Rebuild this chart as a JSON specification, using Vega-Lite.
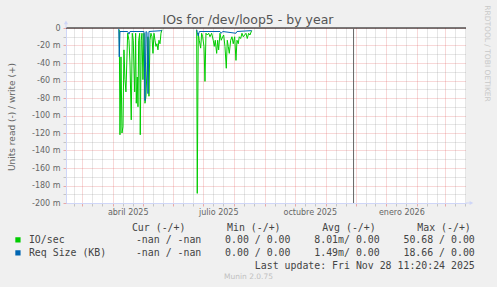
{
  "$schema": "https://vega.github.io/schema/vega-lite/v6.json",
  "width": 400,
  "height": 175,
  "autosize": "none",
  "padding": {"left": 66, "top": 28, "right": 31, "bottom": 84},
  "background": "#F0F0F0",
  "config": {"view": {"fill": "#FFFFFF", "stroke": null}},
  "title": {"text": "IOs for /dev/loop5 - by year", "font": "DejaVu Sans", "fontSize": 12.5, "fontWeight": "normal", "color": "#555555", "anchor": "middle", "dx": -18, "dy": 32, "baseline": "alphabetic", "offset": 0},
  "resolve": {"axis": {"x": "independent", "y": "independent"}},
  "layer": [
    {
      "data": {"values": [{"v": 0}]},
      "mark": {"type": "rule", "color": "#000000", "strokeWidth": 1},
      "encoding": {
        "y": {"field": "v", "type": "quantitative", "scale": {"domain": [-200, 0], "nice": false, "zero": false},
          "axis": {"orient": "right", "labels": false, "ticks": false, "domain": false, "grid": false, "title": "RRDTOOL / TOBI OETIKER", "titleAngle": 90, "titleX": 20.5, "titleY": 25, "titleAlign": "center", "titleBaseline": "middle", "titleFont": "DejaVu Sans", "titleFontSize": 7.5, "titleFontWeight": "normal", "titleColor": "#C8C8C8"}}
      }
    },
    {
      "data": {"values": [{"t": "2025-11-29T00:00:00Z"}]},
      "mark": {"type": "rule", "color": "#666666", "strokeWidth": 1},
      "encoding": {
        "x": {"field": "t", "type": "temporal", "axis": null}
      }
    },
    {
      "data": {"values": [{"t": "2025-02-13T00:00:00Z", "v": 0, "v2": 5}]},
      "mark": {"type": "rule", "color": "#CFD6F8", "strokeWidth": 1, "clip": false},
      "encoding": {
        "x": {"field": "t", "type": "temporal", "axis": null},
        "y": {"field": "v", "type": "quantitative", "axis": null},
        "y2": {"field": "v2"}
      }
    },
    {
      "data": {"values": [{"t": "2025-02-13T00:00:00Z", "v": 6.5}]},
      "mark": {"type": "point", "shape": "triangle-up", "filled": true, "color": "#CFD6F8", "opacity": 1, "size": 18, "clip": false},
      "encoding": {
        "x": {"field": "t", "type": "temporal", "axis": null},
        "y": {"field": "v", "type": "quantitative", "axis": null}
      }
    },
    {
      "data": {"values": [{"t": "2026-03-22T00:00:00Z", "t2": "2026-03-26T00:00:00Z", "v": -200}]},
      "mark": {"type": "rule", "color": "#CFD6F8", "strokeWidth": 1, "clip": false},
      "encoding": {
        "x": {"field": "t", "type": "temporal", "axis": null},
        "x2": {"field": "t2"},
        "y": {"field": "v", "type": "quantitative", "axis": null}
      }
    },
    {
      "data": {"values": [{"t": "2026-03-27T12:00:00Z", "v": -200}]},
      "mark": {"type": "point", "shape": "triangle-right", "filled": true, "color": "#CFD6F8", "opacity": 1, "size": 18, "clip": false},
      "encoding": {
        "x": {"field": "t", "type": "temporal", "axis": null},
        "y": {"field": "v", "type": "quantitative", "axis": null}
      }
    },
    {
      "data": {"values": [
        {"t": "2025-04-07T13:00:00Z", "s": "IO/sec", "g": 1, "v": -2},
        {"t": "2025-04-08T06:00:00Z", "s": "IO/sec", "g": 1, "v": -122},
        {"t": "2025-04-09T06:00:00Z", "s": "IO/sec", "g": 1, "v": -33},
        {"t": "2025-04-10T06:00:00Z", "s": "IO/sec", "g": 1, "v": -120},
        {"t": "2025-04-11T06:00:00Z", "s": "IO/sec", "g": 1, "v": -113},
        {"t": "2025-04-12T06:00:00Z", "s": "IO/sec", "g": 1, "v": -25},
        {"t": "2025-04-13T06:00:00Z", "s": "IO/sec", "g": 1, "v": -59},
        {"t": "2025-04-14T06:00:00Z", "s": "IO/sec", "g": 1, "v": -73},
        {"t": "2025-04-15T23:00:00Z", "s": "IO/sec", "g": 1, "v": -6},
        {"t": "2025-04-17T07:00:00Z", "s": "IO/sec", "g": 1, "v": -14},
        {"t": "2025-04-18T07:00:00Z", "s": "IO/sec", "g": 1, "v": -40},
        {"t": "2025-04-19T14:00:00Z", "s": "IO/sec", "g": 1, "v": -105},
        {"t": "2025-04-20T14:00:00Z", "s": "IO/sec", "g": 1, "v": -6},
        {"t": "2025-04-21T14:00:00Z", "s": "IO/sec", "g": 1, "v": -14},
        {"t": "2025-04-23T00:00:00Z", "s": "IO/sec", "g": 1, "v": -73},
        {"t": "2025-04-24T00:00:00Z", "s": "IO/sec", "g": 1, "v": -6},
        {"t": "2025-04-24T15:00:00Z", "s": "IO/sec", "g": 1, "v": -86},
        {"t": "2025-04-25T15:00:00Z", "s": "IO/sec", "g": 1, "v": -56},
        {"t": "2025-04-26T08:00:00Z", "s": "IO/sec", "g": 1, "v": -90},
        {"t": "2025-04-27T01:00:00Z", "s": "IO/sec", "g": 1, "v": -14},
        {"t": "2025-04-28T01:00:00Z", "s": "IO/sec", "g": 1, "v": -6},
        {"t": "2025-04-28T15:00:00Z", "s": "IO/sec", "g": 1, "v": -122},
        {"t": "2025-04-29T15:00:00Z", "s": "IO/sec", "g": 1, "v": -14},
        {"t": "2025-04-30T08:00:00Z", "s": "IO/sec", "g": 1, "v": -6},
        {"t": "2025-05-01T08:00:00Z", "s": "IO/sec", "g": 1, "v": -59},
        {"t": "2025-05-02T09:00:00Z", "s": "IO/sec", "g": 1, "v": -6},
        {"t": "2025-05-03T09:00:00Z", "s": "IO/sec", "g": 1, "v": -86},
        {"t": "2025-05-04T09:00:00Z", "s": "IO/sec", "g": 1, "v": -78},
        {"t": "2025-05-05T09:00:00Z", "s": "IO/sec", "g": 1, "v": -48},
        {"t": "2025-05-06T09:00:00Z", "s": "IO/sec", "g": 1, "v": -10},
        {"t": "2025-05-07T09:00:00Z", "s": "IO/sec", "g": 1, "v": -78},
        {"t": "2025-05-08T09:00:00Z", "s": "IO/sec", "g": 1, "v": -14},
        {"t": "2025-05-09T09:00:00Z", "s": "IO/sec", "g": 1, "v": -6},
        {"t": "2025-05-10T10:00:00Z", "s": "IO/sec", "g": 1, "v": -10},
        {"t": "2025-05-11T10:00:00Z", "s": "IO/sec", "g": 1, "v": -29},
        {"t": "2025-05-12T10:00:00Z", "s": "IO/sec", "g": 1, "v": -6},
        {"t": "2025-05-13T10:00:00Z", "s": "IO/sec", "g": 1, "v": -14},
        {"t": "2025-05-14T10:00:00Z", "s": "IO/sec", "g": 1, "v": -21},
        {"t": "2025-05-15T10:00:00Z", "s": "IO/sec", "g": 1, "v": -18},
        {"t": "2025-05-16T10:00:00Z", "s": "IO/sec", "g": 1, "v": -25},
        {"t": "2025-05-17T10:00:00Z", "s": "IO/sec", "g": 1, "v": -14},
        {"t": "2025-05-18T11:00:00Z", "s": "IO/sec", "g": 1, "v": -18},
        {"t": "2025-05-19T11:00:00Z", "s": "IO/sec", "g": 1, "v": -6},
        {"t": "2025-05-20T11:00:00Z", "s": "IO/sec", "g": 1, "v": -2},
        {"t": "2025-06-24T08:00:00Z", "s": "IO/sec", "g": 2, "v": -2},
        {"t": "2025-06-24T22:00:00Z", "s": "IO/sec", "g": 2, "v": -189},
        {"t": "2025-06-25T22:00:00Z", "s": "IO/sec", "g": 2, "v": -6},
        {"t": "2025-06-26T22:00:00Z", "s": "IO/sec", "g": 2, "v": -14},
        {"t": "2025-06-28T08:00:00Z", "s": "IO/sec", "g": 2, "v": -23},
        {"t": "2025-06-29T08:00:00Z", "s": "IO/sec", "g": 2, "v": -6},
        {"t": "2025-06-30T08:00:00Z", "s": "IO/sec", "g": 2, "v": -10},
        {"t": "2025-07-01T16:00:00Z", "s": "IO/sec", "g": 2, "v": -21},
        {"t": "2025-07-02T16:00:00Z", "s": "IO/sec", "g": 2, "v": -61},
        {"t": "2025-07-03T16:00:00Z", "s": "IO/sec", "g": 2, "v": -6},
        {"t": "2025-07-04T23:00:00Z", "s": "IO/sec", "g": 2, "v": -8},
        {"t": "2025-07-06T09:00:00Z", "s": "IO/sec", "g": 2, "v": -6},
        {"t": "2025-07-07T17:00:00Z", "s": "IO/sec", "g": 2, "v": -10},
        {"t": "2025-07-09T09:00:00Z", "s": "IO/sec", "g": 2, "v": -6},
        {"t": "2025-07-11T00:00:00Z", "s": "IO/sec", "g": 2, "v": -14},
        {"t": "2025-07-12T00:00:00Z", "s": "IO/sec", "g": 2, "v": -21},
        {"t": "2025-07-13T00:00:00Z", "s": "IO/sec", "g": 2, "v": -14},
        {"t": "2025-07-14T10:00:00Z", "s": "IO/sec", "g": 2, "v": -29},
        {"t": "2025-07-15T10:00:00Z", "s": "IO/sec", "g": 2, "v": -14},
        {"t": "2025-07-16T10:00:00Z", "s": "IO/sec", "g": 2, "v": -25},
        {"t": "2025-07-17T18:00:00Z", "s": "IO/sec", "g": 2, "v": -6},
        {"t": "2025-07-19T01:00:00Z", "s": "IO/sec", "g": 2, "v": -14},
        {"t": "2025-07-20T11:00:00Z", "s": "IO/sec", "g": 2, "v": -10},
        {"t": "2025-07-21T11:00:00Z", "s": "IO/sec", "g": 2, "v": -8},
        {"t": "2025-07-22T18:00:00Z", "s": "IO/sec", "g": 2, "v": -21},
        {"t": "2025-07-24T02:00:00Z", "s": "IO/sec", "g": 2, "v": -46},
        {"t": "2025-07-25T02:00:00Z", "s": "IO/sec", "g": 2, "v": -14},
        {"t": "2025-07-26T02:00:00Z", "s": "IO/sec", "g": 2, "v": -21},
        {"t": "2025-07-27T02:00:00Z", "s": "IO/sec", "g": 2, "v": -29},
        {"t": "2025-07-28T12:00:00Z", "s": "IO/sec", "g": 2, "v": -14},
        {"t": "2025-07-29T19:00:00Z", "s": "IO/sec", "g": 2, "v": -10},
        {"t": "2025-07-31T02:00:00Z", "s": "IO/sec", "g": 2, "v": -18},
        {"t": "2025-08-01T12:00:00Z", "s": "IO/sec", "g": 2, "v": -10},
        {"t": "2025-08-02T20:00:00Z", "s": "IO/sec", "g": 2, "v": -37},
        {"t": "2025-08-03T20:00:00Z", "s": "IO/sec", "g": 2, "v": -14},
        {"t": "2025-08-05T03:00:00Z", "s": "IO/sec", "g": 2, "v": -18},
        {"t": "2025-08-06T03:00:00Z", "s": "IO/sec", "g": 2, "v": -10},
        {"t": "2025-08-07T13:00:00Z", "s": "IO/sec", "g": 2, "v": -12},
        {"t": "2025-08-08T20:00:00Z", "s": "IO/sec", "g": 2, "v": -6},
        {"t": "2025-08-10T04:00:00Z", "s": "IO/sec", "g": 2, "v": -10},
        {"t": "2025-08-11T13:00:00Z", "s": "IO/sec", "g": 2, "v": -8},
        {"t": "2025-08-12T21:00:00Z", "s": "IO/sec", "g": 2, "v": -6},
        {"t": "2025-08-14T04:00:00Z", "s": "IO/sec", "g": 2, "v": -12},
        {"t": "2025-08-15T14:00:00Z", "s": "IO/sec", "g": 2, "v": -6},
        {"t": "2025-08-16T21:00:00Z", "s": "IO/sec", "g": 2, "v": -8},
        {"t": "2025-08-18T14:00:00Z", "s": "IO/sec", "g": 2, "v": -3},
        {"t": "2025-04-07T01:00:00Z", "s": "Req Size (KB)", "g": 1, "v": -1},
        {"t": "2025-04-07T13:00:00Z", "s": "Req Size (KB)", "g": 1, "v": -33},
        {"t": "2025-04-08T06:00:00Z", "s": "Req Size (KB)", "g": 1, "v": -4},
        {"t": "2025-04-15T23:00:00Z", "s": "Req Size (KB)", "g": 1, "v": -4},
        {"t": "2025-04-17T07:00:00Z", "s": "Req Size (KB)", "g": 1, "v": -7},
        {"t": "2025-04-18T07:00:00Z", "s": "Req Size (KB)", "g": 1, "v": -4},
        {"t": "2025-05-02T09:00:00Z", "s": "Req Size (KB)", "g": 1, "v": -4},
        {"t": "2025-05-03T09:00:00Z", "s": "Req Size (KB)", "g": 1, "v": -83},
        {"t": "2025-05-04T09:00:00Z", "s": "Req Size (KB)", "g": 1, "v": -4},
        {"t": "2025-05-05T09:00:00Z", "s": "Req Size (KB)", "g": 1, "v": -5},
        {"t": "2025-05-06T09:00:00Z", "s": "Req Size (KB)", "g": 1, "v": -75},
        {"t": "2025-05-07T09:00:00Z", "s": "Req Size (KB)", "g": 1, "v": -4},
        {"t": "2025-05-20T11:00:00Z", "s": "Req Size (KB)", "g": 1, "v": -3},
        {"t": "2025-06-24T08:00:00Z", "s": "Req Size (KB)", "g": 2, "v": -2},
        {"t": "2025-06-24T22:00:00Z", "s": "Req Size (KB)", "g": 2, "v": -5},
        {"t": "2025-06-25T22:00:00Z", "s": "Req Size (KB)", "g": 2, "v": -9},
        {"t": "2025-06-26T22:00:00Z", "s": "Req Size (KB)", "g": 2, "v": -4},
        {"t": "2025-07-17T18:00:00Z", "s": "Req Size (KB)", "g": 2, "v": -4},
        {"t": "2025-07-19T01:00:00Z", "s": "Req Size (KB)", "g": 2, "v": -6},
        {"t": "2025-07-20T11:00:00Z", "s": "Req Size (KB)", "g": 2, "v": -4},
        {"t": "2025-08-02T20:00:00Z", "s": "Req Size (KB)", "g": 2, "v": -6},
        {"t": "2025-08-03T20:00:00Z", "s": "Req Size (KB)", "g": 2, "v": -4},
        {"t": "2025-08-18T14:00:00Z", "s": "Req Size (KB)", "g": 2, "v": -3}
      ]},
      "mark": {"type": "line", "strokeWidth": 1, "clip": true},
      "encoding": {
        "x": {"field": "t", "type": "temporal",
          "scale": {"type": "utc", "domain": [{"year": 2025, "month": 2, "date": 13, "utc": true}, {"year": 2026, "month": 3, "date": 22, "utc": true}]},
          "axis": {
            "values": [
              {"year": 2025, "month": 2, "date": 21, "utc": true},
              {"year": 2025, "month": 3, "date": 1, "utc": true},
              {"year": 2025, "month": 3, "date": 11, "utc": true},
              {"year": 2025, "month": 3, "date": 21, "utc": true},
              {"year": 2025, "month": 4, "date": 1, "utc": true},
              {"year": 2025, "month": 4, "date": 11, "utc": true},
              {"year": 2025, "month": 4, "date": 16, "utc": true},
              {"year": 2025, "month": 4, "date": 21, "utc": true},
              {"year": 2025, "month": 5, "date": 1, "utc": true},
              {"year": 2025, "month": 5, "date": 11, "utc": true},
              {"year": 2025, "month": 5, "date": 21, "utc": true},
              {"year": 2025, "month": 6, "date": 1, "utc": true},
              {"year": 2025, "month": 6, "date": 11, "utc": true},
              {"year": 2025, "month": 6, "date": 21, "utc": true},
              {"year": 2025, "month": 7, "date": 1, "utc": true},
              {"year": 2025, "month": 7, "date": 11, "utc": true},
              {"year": 2025, "month": 7, "date": 16, "utc": true},
              {"year": 2025, "month": 7, "date": 21, "utc": true},
              {"year": 2025, "month": 8, "date": 1, "utc": true},
              {"year": 2025, "month": 8, "date": 11, "utc": true},
              {"year": 2025, "month": 8, "date": 21, "utc": true},
              {"year": 2025, "month": 9, "date": 1, "utc": true},
              {"year": 2025, "month": 9, "date": 11, "utc": true},
              {"year": 2025, "month": 9, "date": 21, "utc": true},
              {"year": 2025, "month": 10, "date": 1, "utc": true},
              {"year": 2025, "month": 10, "date": 11, "utc": true},
              {"year": 2025, "month": 10, "date": 16, "utc": true},
              {"year": 2025, "month": 10, "date": 21, "utc": true},
              {"year": 2025, "month": 11, "date": 1, "utc": true},
              {"year": 2025, "month": 11, "date": 11, "utc": true},
              {"year": 2025, "month": 11, "date": 21, "utc": true},
              {"year": 2025, "month": 12, "date": 1, "utc": true},
              {"year": 2025, "month": 12, "date": 11, "utc": true},
              {"year": 2025, "month": 12, "date": 21, "utc": true},
              {"year": 2026, "month": 1, "date": 1, "utc": true},
              {"year": 2026, "month": 1, "date": 11, "utc": true},
              {"year": 2026, "month": 1, "date": 16, "utc": true},
              {"year": 2026, "month": 1, "date": 21, "utc": true},
              {"year": 2026, "month": 2, "date": 1, "utc": true},
              {"year": 2026, "month": 2, "date": 11, "utc": true},
              {"year": 2026, "month": 2, "date": 21, "utc": true},
              {"year": 2026, "month": 3, "date": 1, "utc": true},
              {"year": 2026, "month": 3, "date": 11, "utc": true},
              {"year": 2026, "month": 3, "date": 21, "utc": true}
            ],
            "labelExpr": "utcdate(datum.value) === 16 ? ['enero','febrero','marzo','abril','mayo','junio','julio','agosto','septiembre','octubre','noviembre','diciembre'][utcmonth(datum.value)] + ' ' + utcyear(datum.value) : ''",
            "grid": true,
            "gridDash": [1, 1],
            "gridColor": {"condition": {"test": "utcdate(datum.value) === 1", "value": "rgba(222,79,79,0.45)"}, "value": "rgba(143,143,143,0.45)"},
            "gridOpacity": {"condition": {"test": "utcdate(datum.value) === 16", "value": 0}, "value": 1},
            "tickColor": {"condition": {"test": "utcdate(datum.value) === 1", "value": "rgba(222,79,79,0.45)"}, "value": "rgba(143,143,143,0.45)"},
            "tickOpacity": {"condition": {"test": "utcdate(datum.value) === 16", "value": 0}, "value": 1},
            "tickSize": 3,
            "domainColor": "#CFD6F8",
            "labelFont": "DejaVu Sans",
            "labelFontSize": 8,
            "labelColor": "#666666",
            "labelOverlap": false,
            "labelFlush": false,
            "labelPadding": 2,
            "title": "Munin 2.0.75",
            "titleFont": "DejaVu Sans",
            "titleFontSize": 7.5,
            "titleFontWeight": "normal",
            "titleColor": "#C0C0C0",
            "titleX": 182,
            "titleY": 73,
            "titleAlign": "center",
            "titleBaseline": "middle"
          }
        },
        "y": {"field": "v", "type": "quantitative",
          "axis": {
            "values": [-200, -190, -180, -170, -160, -150, -140, -130, -120, -110, -100, -90, -80, -70, -60, -50, -40, -30, -20, -10, 0],
            "labelExpr": "datum.value % 20 !== 0 ? '' : (datum.value === 0 ? '0' : datum.value + ' m')",
            "grid": true,
            "gridDash": [1, 1],
            "gridColor": {"condition": {"test": "datum.value % 20 === 0", "value": "rgba(222,79,79,0.45)"}, "value": "rgba(143,143,143,0.45)"},
            "tickColor": {"condition": {"test": "datum.value % 20 === 0", "value": "rgba(222,79,79,0.45)"}, "value": "rgba(143,143,143,0.45)"},
            "tickSize": 3,
            "domainColor": "#CFD6F8",
            "labelFont": "DejaVu Sans",
            "labelFontSize": 8,
            "labelColor": "#666666",
            "labelPadding": 3,
            "labelOverlap": false,
            "labelFlush": false,
            "title": "Units read (-) / write (+)",
            "titleFont": "DejaVu Sans",
            "titleFontSize": 9,
            "titleFontWeight": "normal",
            "titleColor": "#666666",
            "titleAngle": -90,
            "titleX": -55,
            "titleY": 88.5,
            "titleAlign": "center",
            "titleBaseline": "middle"
          }
        },
        "detail": {"field": "g", "type": "nominal"},
        "color": {"field": "s", "type": "nominal",
          "scale": {"domain": ["IO/sec", "Req Size (KB)", "upd"], "range": ["#00CC00", "#0066B3", "rgba(0,0,0,0)"]},
          "legend": {
            "orient": "none",
            "direction": "vertical",
            "legendX": -53,
            "legendY": 195,
            "padding": 0,
            "title": "\u200b\u00a0\u00a0\u00a0\u00a0\u00a0\u00a0\u00a0\u00a0\u00a0\u00a0\u00a0\u00a0\u00a0\u00a0\u00a0\u00a0\u00a0\u00a0\u00a0\u00a0Cur (-/+)\u00a0\u00a0\u00a0\u00a0\u00a0\u00a0\u00a0Min (-/+)\u00a0\u00a0\u00a0\u00a0\u00a0\u00a0\u00a0Avg (-/+)\u00a0\u00a0\u00a0\u00a0\u00a0\u00a0\u00a0Max (-/+)",
            "titleFont": "DejaVu Sans Mono",
            "titleFontSize": 9.9,
            "titleFontWeight": "normal",
            "titleColor": "#444444",
            "titleLimit": 1000,
            "titlePadding": 2,
            "labelFont": "DejaVu Sans Mono",
            "labelFontSize": 9.9,
            "labelColor": "#444444",
            "labelLimit": 1000,
            "labelOffset": 6,
            "rowPadding": -1,
            "symbolType": "square",
            "symbolSize": 7,
            "symbolStrokeWidth": 2.6,
            "labelExpr": "datum.label === 'IO/sec' ? 'IO/sec\u00a0\u00a0\u00a0\u00a0\u00a0\u00a0\u00a0\u00a0\u00a0\u00a0\u00a0\u00a0-nan / -nan\u00a0\u00a0\u00a0\u00a00.00 / 0.00\u00a0\u00a0\u00a0\u00a08.01m/ 0.00\u00a0\u00a0\u00a0\u00a050.68 / 0.00' : (datum.label === 'Req Size (KB)' ? 'Req Size (KB)\u00a0\u00a0\u00a0\u00a0\u00a0-nan / -nan\u00a0\u00a0\u00a0\u00a00.00 / 0.00\u00a0\u00a0\u00a0\u00a01.49m/ 0.00\u00a0\u00a0\u00a0\u00a018.66 / 0.00' : '\u200b\u00a0\u00a0\u00a0\u00a0\u00a0\u00a0\u00a0\u00a0\u00a0\u00a0\u00a0\u00a0\u00a0\u00a0\u00a0\u00a0\u00a0\u00a0\u00a0\u00a0\u00a0\u00a0\u00a0\u00a0\u00a0\u00a0\u00a0\u00a0\u00a0\u00a0\u00a0\u00a0\u00a0\u00a0\u00a0\u00a0\u00a0\u00a0Last update: Fri Nov 28 11:20:24 2025')"
          }
        }
      }
    }
  ]
}
